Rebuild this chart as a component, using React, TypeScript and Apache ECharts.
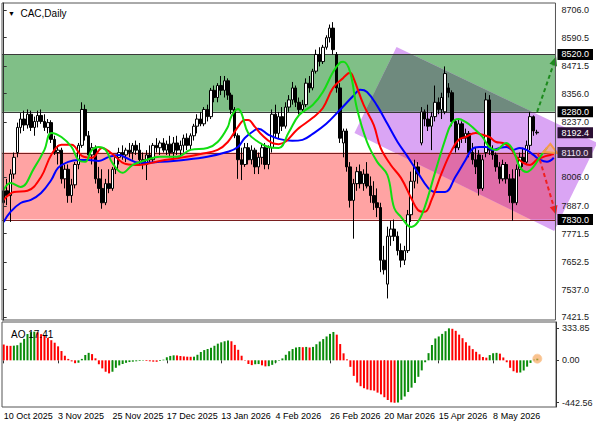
import React, { useEffect, useRef } from 'react';
import * as echarts from 'echarts';

const FONT = '"Liberation Sans", Arial, sans-serif';
const N_CAT = 163;
const categories = Array.from({ length: N_CAT }, (_, i) => String(i));

const openP = [
  7900, 7950, 7930, 8020, 8110, 8215, 8250, 8225, 8270, 8215,
  8240, 8265, 8240, 8215, 8235, 8165, 8110, 8120, 8000, 8040,
  7930, 7975, 8060, 8140, 8290, 8180, 8100, 8130, 8000, 7960,
  7900, 7980, 7960, 8040, 8090, 8110, 8100, 8120, 8110, 8140,
  8120, 8080, 8060, 8100, 8080, 8140, 8130, 8150, 8120, 8145,
  8110, 8150, 8120, 8140, 8170, 8140, 8180, 8220, 8250, 8230,
  8290, 8260, 8370, 8340, 8390, 8370, 8410, 8350, 8290, 8180,
  8080, 8060, 8130, 8080, 8120, 8050, 8090, 8130, 8060, 8130,
  8270, 8190, 8260, 8220, 8300, 8330, 8380, 8320, 8290, 8310,
  8400, 8380, 8450, 8520, 8490, 8550, 8590, 8630, 8520, 8380,
  8150, 8200, 8050, 7910, 7980, 8030, 7980, 8020, 7970, 7930,
  7900, 7880, 7660, 7560, 7760, 7790, 7760, 7700, 7660, 7700,
  7850, 7990, 8050, 8150, 8280, 8250, 8220, 8260, 8320, 8290,
  8280, 8380, 8360, 8240, 8130, 8230, 8170, 8190, 8110, 8080,
  8100, 7960, 8110, 8330, 8120, 8100, 8050, 8000, 8060, 8000,
  8000, 7900, 8040, 8090, 8070, 8140, 8260, 8195,
];
const highP = [
  8080, 8000, 8040, 8110, 8235, 8275, 8285, 8290, 8285, 8260,
  8285, 8290, 8270, 8250, 8245, 8180, 8140, 8130, 8060, 8060,
  8000, 8070, 8150, 8320, 8310, 8200, 8150, 8140, 8050, 8040,
  8000, 8040, 8050, 8100, 8130, 8140, 8130, 8150, 8150, 8160,
  8150, 8110, 8120, 8140, 8150, 8170, 8160, 8170, 8160, 8180,
  8175, 8180, 8160, 8185, 8190, 8190, 8230, 8270, 8280, 8300,
  8310, 8380, 8390, 8400, 8430, 8430, 8420, 8360, 8300, 8190,
  8130, 8150, 8150, 8140, 8130, 8110, 8150, 8150, 8140, 8290,
  8310, 8280, 8300, 8320, 8350, 8405, 8390, 8340, 8330, 8420,
  8430, 8460, 8540, 8550, 8560, 8600, 8645, 8655, 8530, 8400,
  8210, 8210, 8070, 8000, 8050, 8060, 8040, 8070, 8010, 7990,
  7960, 7900, 7720, 7800, 7825, 7830, 7780, 7730, 7720, 7870,
  8030, 8080, 8070, 8300, 8290, 8310, 8280, 8390, 8340, 8360,
  8470, 8400, 8370, 8250, 8250, 8240, 8210, 8200, 8150, 8130,
  8120, 8100, 8360, 8350, 8140, 8110, 8070, 8080, 8070, 8020,
  8040, 8060, 8110, 8130, 8160, 8280, 8265, 8205,
];
const lowP = [
  7810, 7890, 7820, 8000, 8090, 8190, 8200, 8210, 8200, 8180,
  8215, 8230, 8200, 8190, 8150, 8100, 8060, 7980, 7960, 7900,
  7900, 7960, 8040, 8130, 8160, 8080, 8060, 7980, 7940, 7875,
  7890, 7940, 7950, 8020, 8060, 8080, 8070, 8090, 8080, 8100,
  8060, 8040, 7995, 8070, 8070, 8110, 8100, 8110, 8100, 8090,
  8080, 8100, 8090, 8110, 8120, 8120, 8160, 8190, 8220, 8220,
  8240, 8250, 8320, 8320, 8350, 8340, 8330, 8270, 8170, 8000,
  7995, 8050, 8060, 8060, 8020, 8020, 8060, 8040, 8040, 8110,
  8170, 8170, 8200, 8210, 8280, 8310, 8300, 8270, 8280, 8300,
  8360, 8370, 8440, 8470, 8480, 8540, 8570, 8520, 8360, 8150,
  8090, 8030, 7880, 7750, 7950, 7960, 7950, 7960, 7900, 7870,
  7840, 7610, 7600, 7500, 7720, 7740, 7680, 7630, 7640, 7690,
  7820, 7960, 7980, 8140, 8220, 8200, 8120, 8240, 8270, 8250,
  8270, 8340, 8220, 8110, 8120, 8150, 8150, 8090, 8060, 8020,
  7930, 7950, 8090, 8100, 8080, 8030, 7980, 7990, 7980, 7900,
  7825, 7890, 8010, 8050, 8060, 8120, 8180, 8185,
];
const closeP = [
  7950, 7930, 8020, 8090, 8215, 8250, 8225, 8270, 8215, 8240,
  8265, 8240, 8215, 8235, 8165, 8110, 8120, 8000, 8040, 7930,
  7975, 8060, 8140, 8290, 8180, 8100, 8130, 8000, 7960, 7900,
  7980, 7960, 8040, 8090, 8110, 8100, 8120, 8110, 8140, 8120,
  8080, 8060, 8100, 8080, 8140, 8130, 8150, 8120, 8145, 8110,
  8150, 8120, 8140, 8170, 8140, 8180, 8220, 8250, 8230, 8290,
  8260, 8370, 8340, 8390, 8370, 8410, 8350, 8290, 8180, 8080,
  8060, 8130, 8080, 8120, 8050, 8090, 8130, 8060, 8130, 8270,
  8190, 8260, 8220, 8300, 8330, 8380, 8320, 8290, 8310, 8400,
  8380, 8450, 8520, 8490, 8550, 8590, 8630, 8540, 8380, 8170,
  8200, 8050, 7910, 7980, 8030, 7980, 8020, 7970, 7930, 7900,
  7880, 7660, 7620, 7760, 7790, 7760, 7700, 7660, 7700, 7850,
  7990, 8050, 8020, 8280, 8250, 8220, 8260, 8320, 8290, 8340,
  8440, 8360, 8240, 8130, 8230, 8170, 8190, 8110, 8080, 8050,
  7960, 8080, 8330, 8120, 8100, 8050, 8000, 8060, 8000, 7930,
  7900, 8040, 8090, 8070, 8140, 8260, 8200, 8192.4,
];

// Alligator lines (bar index, price)
const lipsPts = [
  [0, 7954], [2, 7983], [5, 7966], [9, 8046], [12, 8121], [14, 8192], [17, 8175], [20, 8133],
  [22, 8079], [24, 8071], [26, 8121], [28, 8133], [30, 8121], [32, 8067], [35, 8025], [38, 8058],
  [42, 8079], [46, 8092], [51, 8092], [55, 8121], [60, 8129], [63, 8154], [66, 8217], [67, 8260],
  [69, 8292], [70, 8275], [72, 8192], [75, 8154], [78, 8133], [81, 8129], [84, 8196], [87, 8267],
  [91, 8309], [94, 8363], [97, 8447], [99, 8485], [100, 8489], [102, 8447], [104, 8296], [107, 8154],
  [110, 8071], [113, 8016], [115, 7878], [117, 7841], [120, 7799], [122, 7820], [124, 7882], [127, 8025],
  [130, 8163], [132, 8234], [134, 8250], [136, 8238], [138, 8217], [141, 8175], [143, 8133], [145, 8121],
  [148, 8150], [150, 8121], [152, 8050], [154, 8029], [156, 8050], [158, 8092], [160, 8129],
];
const teethPts = [
  [0, 7912], [3, 7945], [7, 7950], [11, 8008], [14, 8100], [17, 8142], [20, 8142], [23, 8096],
  [26, 8088], [29, 8129], [32, 8104], [36, 8062], [40, 8058], [46, 8075], [52, 8088], [58, 8104],
  [63, 8121], [66, 8154], [69, 8217], [71, 8246], [72, 8246], [74, 8217], [76, 8184], [79, 8150],
  [81, 8145], [87, 8213], [91, 8255], [94, 8296], [97, 8380], [100, 8422], [102, 8443], [103, 8422],
  [106, 8309], [109, 8225], [111, 8129], [114, 8058], [117, 8004], [120, 7920], [122, 7870], [124, 7862],
  [126, 7912], [129, 8025], [132, 8121], [134, 8163], [136, 8175], [139, 8192], [141, 8184], [143, 8175],
  [145, 8154], [147, 8150], [149, 8133], [151, 8092], [153, 8067], [155, 8058], [157, 8079], [159, 8092],
  [161, 8100], [162, 8104],
];
const jawPts = [
  [0, 7820], [2, 7862], [5, 7899], [8, 7912], [11, 7941], [14, 7995], [16, 8046], [19, 8071],
  [22, 8079], [25, 8079], [28, 8075], [31, 8092], [34, 8100], [36, 8088], [40, 8067], [46, 8071],
  [53, 8079], [60, 8092], [66, 8113], [69, 8133], [71, 8171], [74, 8204], [75, 8209], [78, 8184],
  [81, 8167], [85, 8159], [88, 8163], [91, 8188], [95, 8230], [99, 8288], [103, 8347], [105, 8372],
  [107, 8363], [110, 8305], [113, 8230], [116, 8154], [119, 8092], [122, 8025], [125, 7962], [127, 7945],
  [130, 7945], [133, 8008], [136, 8079], [138, 8125], [140, 8133], [142, 8133], [144, 8121], [146, 8129],
  [148, 8133], [150, 8121], [152, 8129], [154, 8121], [156, 8100], [158, 8079], [160, 8071], [162, 8088],
];

const aoValues = [
  165, 152, 151, 153, 158, 184, 224, 275, 294, 299,
  293, 273, 256, 234, 210, 184, 146, 97, 49, 15,
  -11, -30, -25, 15, 56, 78, 65, 21, -41, -84,
  -119, -136, -119, -78, -53, -38, -26, -18, -14, -10,
  -7, -4, -7, -10, -14, -15, -7, 7, 32, 46,
  52, 51, 45, 41, 38, 37, 38, 58, 87, 107,
  118, 131, 152, 174, 188, 199, 207, 199, 161, 110,
  48, -4, -38, -50, -41, -39, -52, -63, -61, -47,
  -24, -5, 20, 58, 95, 118, 134, 139, 137, 140,
  134, 140, 168, 196, 222, 249, 276, 296, 268, 170,
  73, 10, -68, -162, -232, -270, -291, -304, -312, -316,
  -337, -355, -385, -414, -438, -442.56, -440, -412, -377, -330,
  -285, -236, -172, -105, -20, 75, 160, 228, 249, 276,
  304, 333.85, 329, 308, 268, 231, 189, 153, 117, 89,
  63, 35, 28, 55, 74, 78, 70, 30, -20, -78,
  -114, -129, -127, -106, -66, -27, 8, 17.41,
];

const dateLabelIdx = [0, 16, 32, 48, 64, 80, 96, 112, 128, 144];
const dateLabels = ['10 Oct 2025', '3 Nov 2025', '25 Nov 2025', '17 Dec 2025', '13 Jan 2026', '4 Feb 2026', '26 Feb 2026', '20 Mar 2026', '15 Apr 2026', '8 May 2026'];
const priceTicks = [7421.5, 7537.0, 7652.5, 7771.5, 7887.0, 8006.0, 8237.0, 8356.0, 8471.5, 8590.5, 8706.0];
const levelTicks = [7830, 8110, 8192.4, 8280, 8520];
const aoTicks = [-442.56, 0, 333.85];
const greenZone = [8280, 8520];
const redZone = [7830, 8110];
const channelPts = [[115.7, 8551], [174.8, 8150], [162.1, 7782], [103.3, 8192]];
const upArrow = [[157.1, 8280], [162.7, 8511]];
const downArrow = [[157.3, 8108], [162.7, 7850]];
const orangeMark = [[158.9, 8112], [161.0, 8146], [163.0, 8108]];
const aoMarker = [157, 17.41];

type Pt = number[];
function clipPoly(pts: Pt[], x0: number, x1: number, y0: number, y1: number): Pt[] {
  const clipEdge = (poly: Pt[], inside: (p: Pt) => boolean, inter: (a: Pt, b: Pt) => Pt) => {
    const out: Pt[] = [];
    for (let i = 0; i < poly.length; i++) {
      const cur = poly[i];
      const prev = poly[(i + poly.length - 1) % poly.length];
      const ci = inside(cur), pi = inside(prev);
      if (ci) {
        if (!pi) out.push(inter(prev, cur));
        out.push(cur);
      } else if (pi) out.push(inter(prev, cur));
    }
    return out;
  };
  const ix = (X: number) => (a: Pt, b: Pt) => { const t = (X - a[0]) / (b[0] - a[0]); return [X, a[1] + t * (b[1] - a[1])]; };
  const iy = (Y: number) => (a: Pt, b: Pt) => { const t = (Y - a[1]) / (b[1] - a[1]); return [a[0] + t * (b[0] - a[0]), Y]; };
  let p = pts;
  p = clipEdge(p, q => q[0] >= x0, ix(x0)); if (!p.length) return p;
  p = clipEdge(p, q => q[0] <= x1, ix(x1)); if (!p.length) return p;
  p = clipEdge(p, q => q[1] >= y0, iy(y0)); if (!p.length) return p;
  p = clipEdge(p, q => q[1] <= y1, iy(y1));
  return p;
}

function arrowShapes(api: any, seg: number[][], color: string) {
  const a = api.coord(seg[0]);
  const b = api.coord(seg[1]);
  const dx = b[0] - a[0], dy = b[1] - a[1];
  const len = Math.sqrt(dx * dx + dy * dy);
  const ux = dx / len, uy = dy / len;
  const hl = 9, hw = 4;
  const bx = b[0] - ux * hl, by = b[1] - uy * hl;
  return [
    { type: 'line', shape: { x1: a[0], y1: a[1], x2: bx, y2: by }, style: { stroke: color, lineWidth: 2, lineDash: [4, 3] } },
    { type: 'polygon', shape: { points: [[b[0], b[1]], [bx - uy * hw, by + ux * hw], [bx + uy * hw, by - ux * hw]] }, style: { fill: color } },
  ];
}

export default function App() {
  const ref = useRef<HTMLDivElement>(null);
  useEffect(() => {
    const chart = echarts.init(ref.current!, null, { renderer: 'svg' });
    const labelSet = new Set(dateLabelIdx);
    const option: any = {
      animation: false,
      backgroundColor: '#ffffff',
      textStyle: { fontFamily: FONT },
      title: [
        { text: '{t|▼}  CAC,Daily', left: 3, top: 3, textStyle: { fontSize: 10, fontWeight: 'normal', color: '#000', fontFamily: FONT, rich: { t: { fontSize: 7, color: '#000' } } } },
        { text: 'AO 17.41', left: 6, top: 324, textStyle: { fontSize: 10, fontWeight: 'normal', color: '#000', fontFamily: FONT } },
      ],
      grid: [
        { left: 2, top: 3, width: 554, height: 317, show: true, borderColor: '#555', borderWidth: 1, backgroundColor: 'transparent', z: 10 },
        { left: 2, top: 322, width: 554, height: 85, show: true, borderColor: '#555', borderWidth: 1, backgroundColor: 'transparent', z: 10 },
      ],
      xAxis: [
        { type: 'category', gridIndex: 0, data: categories, show: false },
        {
          type: 'category', gridIndex: 1, data: categories,
          axisLine: { show: false },
          axisTick: { show: true, alignWithLabel: true, length: 3, interval: (i: number) => labelSet.has(i), lineStyle: { color: '#333' } },
          axisLabel: {
            interval: (i: number) => labelSet.has(i),
            formatter: (_v: string, i: number) => { const k = dateLabelIdx.indexOf(i); return k >= 0 ? dateLabels[k] : ''; },
            align: 'left', margin: 4, fontSize: 9, color: '#000', fontFamily: FONT,
          },
        },
        { type: 'value', gridIndex: 0, min: -0.5, max: N_CAT - 0.5, show: false },
      ],
      yAxis: [
        {
          type: 'value', gridIndex: 0, position: 'right', min: 7410, max: 8735, z: 12,
          splitLine: { show: false },
          axisLine: { show: true, lineStyle: { color: '#333' } },
          axisTick: { show: true, length: 3, customValues: priceTicks, lineStyle: { color: '#333' } },
          axisLabel: { customValues: priceTicks, formatter: (v: number) => v.toFixed(1), margin: 6, fontSize: 9, color: '#1a1a1a', fontFamily: FONT },
        },
        {
          type: 'value', gridIndex: 0, position: 'right', min: 7410, max: 8735, z: 13,
          splitLine: { show: false }, axisLine: { show: false }, axisTick: { show: false },
          axisLabel: {
            customValues: levelTicks, margin: 2, fontSize: 9, fontFamily: FONT,
            formatter: (v: number) => {
              const k = v === 8110 ? 'p' : v === 8192.4 ? 'q' : 'k';
              return '{' + k + '|' + v.toFixed(1) + '}';
            },
            rich: {
              k: { backgroundColor: '#000', color: '#fff', padding: [1, 4, 1, 4], fontSize: 9, fontFamily: FONT },
              p: { backgroundColor: '#3a2342', color: '#f0e4f6', padding: [1, 4, 1, 4], fontSize: 9, fontFamily: FONT },
              q: { backgroundColor: '#2a0f33', color: '#fff', padding: [1, 4, 1, 4], fontSize: 9, fontFamily: FONT },
            },
          },
        },
        {
          type: 'value', gridIndex: 1, position: 'right', min: -487, max: 400, z: 12,
          splitLine: { show: false },
          axisLine: { show: true, lineStyle: { color: '#333' } },
          axisTick: { show: true, length: 3, customValues: aoTicks, lineStyle: { color: '#333' } },
          axisLabel: { customValues: aoTicks, formatter: (v: number) => v.toFixed(2), margin: 6, fontSize: 9, color: '#1a1a1a', fontFamily: FONT },
        },
      ],
      series: [
        {
          type: 'custom', name: 'zones', xAxisIndex: 2, yAxisIndex: 0, z: 1, clip: false, silent: true,
          data: [[0, 8000]],
          renderItem: (params: any, api: any) => {
            const cs = params.coordSys;
            const x0 = cs.x, x1 = cs.x + cs.width;
            const yOf = (v: number) => api.coord([0, v])[1];
            const gTop = yOf(greenZone[1]), gBot = yOf(greenZone[0]);
            const rTop = yOf(redZone[1]), rBot = yOf(redZone[0]);
            const ch = channelPts.map(p => api.coord(p));
            const gOver = clipPoly(ch, x0, x1, gTop, gBot);
            const rOver = clipPoly(ch, x0, x1, rTop, rBot);
            const hl = (y: number, c: string) => ({ type: 'line', shape: { x1: x0, y1: Math.round(y) + 0.5, x2: x1, y2: Math.round(y) + 0.5 }, style: { stroke: c, lineWidth: 1 } });
            const children: any[] = [
              { type: 'rect', shape: { x: x0, y: gTop, width: cs.width, height: gBot - gTop }, style: { fill: '#80bf87' } },
              { type: 'rect', shape: { x: x0, y: rTop, width: cs.width, height: rBot - rTop }, style: { fill: '#ffa3a3' } },
              { type: 'polygon', shape: { points: ch }, style: { fill: '#daa5f4' } },
            ];
            if (gOver.length) children.push({ type: 'polygon', shape: { points: gOver }, style: { fill: '#6f8a7e' } });
            if (rOver.length) children.push({ type: 'polygon', shape: { points: rOver }, style: { fill: '#df6da8' } });
            children.push(hl(gTop, '#3a3a3a'), hl(gBot, '#3a3a3a'), hl(rTop, '#7a1f1f'), hl(rBot, '#7a1f1f'));
            return { type: 'group', children };
          },
        },
        {
          type: 'candlestick', name: 'CAC', xAxisIndex: 0, yAxisIndex: 0, z: 3, barWidth: 3,
          data: openP.map((o, i) => [o, closeP[i], lowP[i], highP[i]]),
          itemStyle: { color: '#ffffff', color0: '#000000', borderColor: '#000000', borderColor0: '#000000', borderWidth: 1 },
        },
        { type: 'line', name: 'Jaw', xAxisIndex: 2, yAxisIndex: 0, z: 4, data: jawPts, smooth: 0.4, showSymbol: false, lineStyle: { color: '#0000ff', width: 2 } },
        { type: 'line', name: 'Teeth', xAxisIndex: 2, yAxisIndex: 0, z: 4, data: teethPts, smooth: 0.4, showSymbol: false, lineStyle: { color: '#ff0000', width: 2 } },
        { type: 'line', name: 'Lips', xAxisIndex: 2, yAxisIndex: 0, z: 4, data: lipsPts, smooth: 0.4, showSymbol: false, lineStyle: { color: '#11dd11', width: 2 } },
        {
          type: 'custom', name: 'arrows', xAxisIndex: 2, yAxisIndex: 0, z: 6, clip: false, silent: true,
          data: [[0, 8000]],
          renderItem: (_params: any, api: any) => {
            const om = orangeMark.map(p => api.coord(p));
            return {
              type: 'group',
              children: [
                ...arrowShapes(api, upArrow, '#1d8a1d'),
                ...arrowShapes(api, downArrow, '#f02020'),
                { type: 'polygon', shape: { points: om }, style: { fill: 'rgba(250,170,90,0.45)', stroke: '#f59a4a', lineWidth: 2 } },
              ],
            };
          },
        },
        {
          type: 'bar', name: 'AO', xAxisIndex: 1, yAxisIndex: 2, barWidth: 2,
          data: aoValues.map((v, i) => ({ value: v, itemStyle: { color: i > 0 && v > aoValues[i - 1] ? '#0a8c0a' : '#ff0000' } })),
        },
        {
          type: 'scatter', name: 'AO marker', xAxisIndex: 1, yAxisIndex: 2, z: 5, symbolSize: 9,
          data: [aoMarker], itemStyle: { color: 'rgba(245,160,80,0.8)', borderColor: 'rgba(250,200,150,0.9)', borderWidth: 1 },
        },
      ],
    };
    chart.setOption(option);
    return () => chart.dispose();
  }, []);
  return <div ref={ref} style={{ position: 'fixed', left: 0, top: 0, width: 596, height: 425, background: '#fff' }} />;
}
